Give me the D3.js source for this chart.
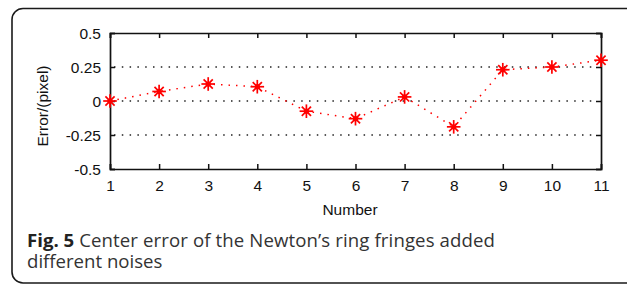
<!DOCTYPE html>
<html>
<head>
<meta charset="utf-8">
<script src="https://cdn.jsdelivr.net/npm/d3@7"></script>
<style>
html,body{margin:0;padding:0;background:#fff;}
svg{display:block;}
</style>
</head>
<body>
<svg id="chart" width="627" height="286"></svg>
<script>
const numbers = [1,2,3,4,5,6,7,8,9,10,11];
const errors = [0, 0.07, 0.125, 0.105, -0.075, -0.13, 0.03, -0.19, 0.23, 0.25, 0.30];
const yTicks = [-0.5, -0.25, 0, 0.25, 0.5];
const yTickLabels = ["-0.5", "-0.25", "0", "0.25", "0.5"];
const gridValues = [-0.25, 0, 0.25];
const xLabel = "Number";
const yLabel = "Error/(pixel)";
const captionBold = "Fig. 5";
const captionLine1 = "Center error of the Newton\u2019s ring fringes added";
const captionLine2 = "different noises";

const svg = d3.select("#chart");
const plot = {left:110, right:601, top:33, bottom:169};

// frame
svg.append("rect").attr("x",12).attr("y",8.5).attr("width",660).attr("height",274.5)
  .attr("rx",11).attr("ry",11).attr("fill","none").attr("stroke","#1a1a1a").attr("stroke-width",1.6);

const x = d3.scaleLinear().domain([1,11]).range([plot.left, plot.right]);
const y = d3.scaleLinear().domain([-0.5,0.5]).range([plot.bottom, plot.top]);

const axisFont = "Liberation Sans, Arial, sans-serif";
const axisSize = 15.5;

// grid
svg.append("g").selectAll("line").data(gridValues).join("line")
  .attr("x1", plot.left+4).attr("x2", plot.right-4)
  .attr("y1", d=>y(d)).attr("y2", d=>y(d))
  .attr("stroke","#222").attr("stroke-width",1.5).attr("stroke-dasharray","1.5,6.3");

// axes
const xb = svg.append("g").attr("transform",`translate(0,${plot.bottom})`)
  .call(d3.axisBottom(x).tickValues(numbers).tickSize(-5).tickFormat(d3.format("d")));
const xt = svg.append("g").attr("transform",`translate(0,${plot.top})`)
  .call(d3.axisTop(x).tickValues(numbers).tickSize(-5).tickFormat(""));
const yl = svg.append("g").attr("transform",`translate(${plot.left},0)`)
  .call(d3.axisLeft(y).tickValues(yTicks).tickSize(-5).tickPadding(9).tickFormat((d,i)=>yTickLabels[i]));
const yr = svg.append("g").attr("transform",`translate(${plot.right},0)`)
  .call(d3.axisRight(y).tickValues(yTicks).tickSize(-5).tickFormat(""));
[xb,xt,yl,yr].forEach(g=>{
  g.select(".domain").attr("stroke","#111").attr("stroke-width",1.7);
  g.selectAll(".tick line").attr("stroke","#111").attr("stroke-width",1.5);
  g.selectAll("text").attr("font-family",axisFont).attr("font-size",axisSize).attr("fill","#111");
});
xb.selectAll("text").attr("dy",null).attr("y",22);
yl.selectAll("text").attr("dy","0.36em");

// red dotted line
const line = d3.line().x((d,i)=>x(numbers[i])).y(d=>y(d));
svg.append("path").datum(errors).attr("d",line).attr("fill","none")
  .attr("stroke","#ff0000").attr("stroke-width",1.5).attr("stroke-dasharray","1.5,6");

// star markers
const m = svg.append("g").selectAll("g").data(errors).join("g")
  .attr("transform",(d,i)=>`translate(${x(numbers[i])},${y(d)})`);
const R = 6.8, D = 4.6;
const segs = [[-R,0,R,0],[0,-R,0,R],[-D,-D,D,D],[-D,D,D,-D]];
segs.forEach(s=>{
  m.append("line").attr("x1",s[0]).attr("y1",s[1]).attr("x2",s[2]).attr("y2",s[3])
    .attr("stroke","#ff0000").attr("stroke-width",1.7);
});
m.append("circle").attr("r",2.6).attr("fill","#ff0000");

// labels
svg.append("text").attr("x",350).attr("y",215).attr("text-anchor","middle")
  .attr("font-family",axisFont).attr("font-size",axisSize).attr("fill","#111").text(xLabel);
svg.append("text").attr("transform","translate(48,106) rotate(-90)").attr("text-anchor","middle")
  .attr("font-family",axisFont).attr("font-size",axisSize).attr("fill","#111").text(yLabel);

// caption
const capFont = "Open Sans, Noto Sans, sans-serif";
const capSize = 18.6;
const fb = svg.append("text").attr("x",27).attr("y",246.5).attr("font-family",capFont)
  .attr("font-size",capSize).attr("font-weight","bold").attr("fill","#222").text(captionBold);
const bw = fb.node().getComputedTextLength();
const startX = 27 + bw + 5;
svg.append("text").attr("x",startX).attr("y",246.5).attr("font-family",capFont)
  .attr("font-size",capSize).attr("fill","#333")
  .attr("textLength",495-startX).attr("lengthAdjust","spacing").text(captionLine1);
svg.append("text").attr("x",27).attr("y",267.5).attr("font-family",capFont)
  .attr("font-size",capSize).attr("fill","#333").text(captionLine2);
</script>
</body>
</html>
